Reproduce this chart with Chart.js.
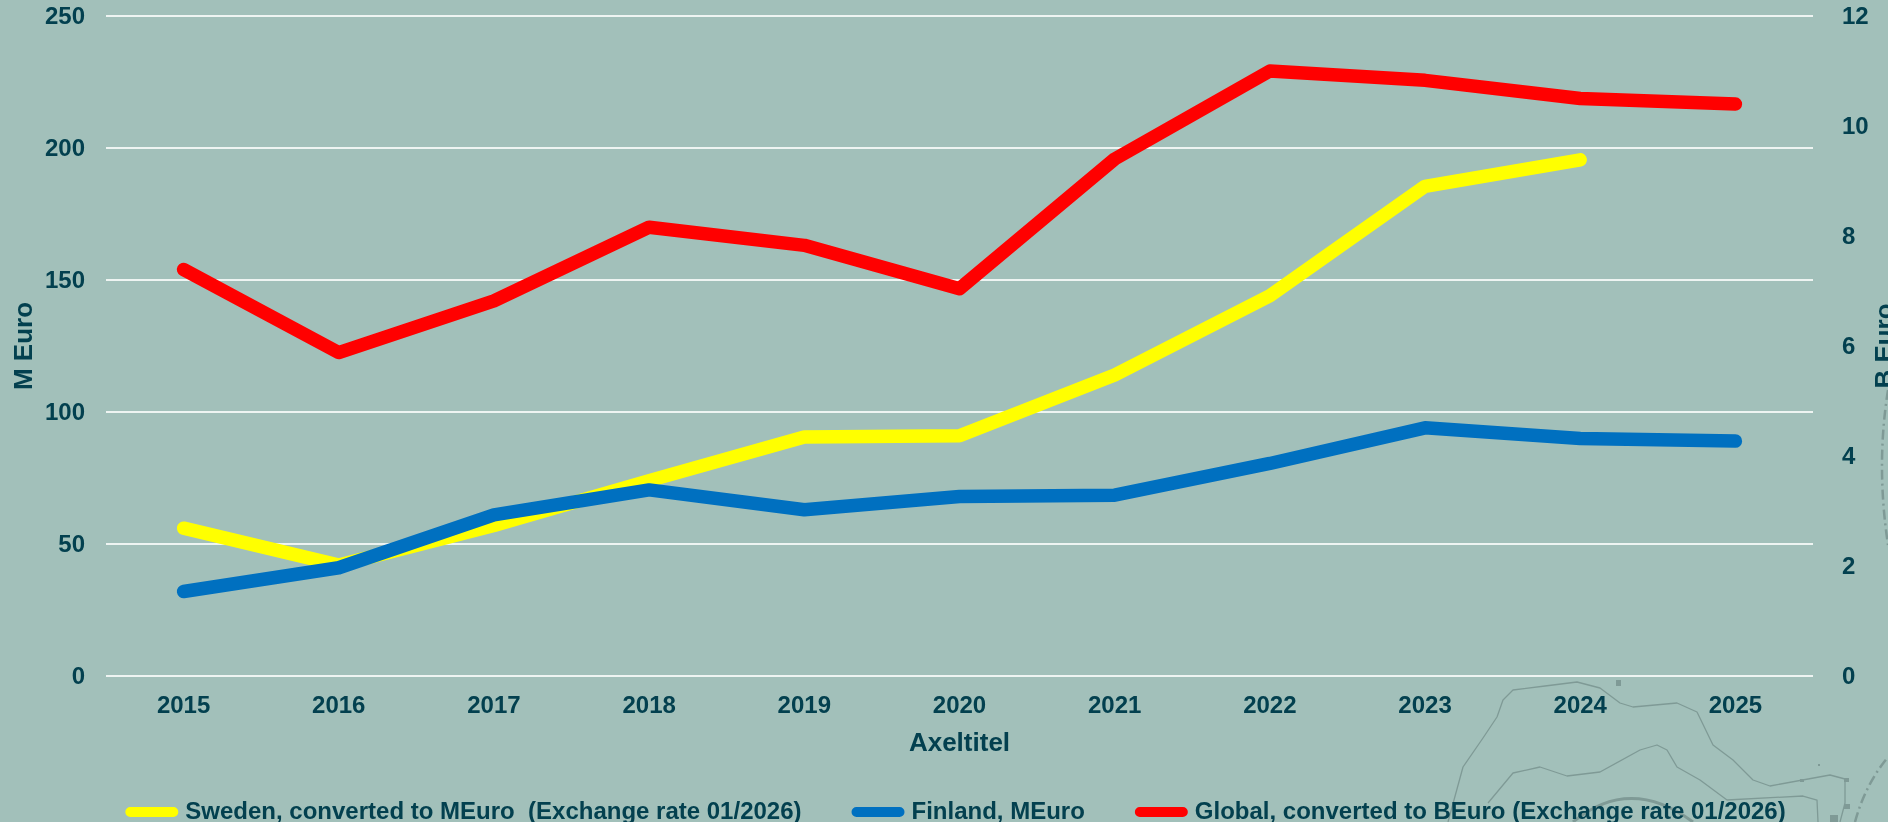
<!DOCTYPE html>
<html><head><meta charset="utf-8">
<style>html,body{margin:0;padding:0;width:1888px;height:822px;overflow:hidden;background:#a2c0ba}
#wrap{position:absolute;left:0;top:0;width:1916px;height:834px}
svg{position:absolute;left:0;top:0}</style>
<script src="https://cdn.jsdelivr.net/npm/chart.js@4"></script>
</head><body>
<svg width="1888" height="822" fill="none" stroke="#7f9a96" stroke-width="1.3" stroke-linejoin="round">
<polyline points="1448,822 1463,767 1483,738 1497,717 1503,700 1513,690 1545,686 1577,682 1600,688 1620,703 1633,707 1677,703 1697,712 1713,745 1733,760 1753,780 1770,786 1830,775 1845,779 1845,803 1840,822"/>
<polyline points="1488,803 1513,773 1540,767 1567,776 1600,772 1640,750 1657,745 1667,750 1677,767 1700,780 1727,800 1803,796 1817,800 1818,822"/>
<path d="M1573 822Q1630 775 1693 822" stroke-width="3"/>
<path d="M1855 822Q1865 785 1888 757" stroke-width="2.5" stroke-dasharray="10 4 2 4"/>
<path d="M1888 390Q1876 465 1888 545" stroke-width="2.5" stroke-dasharray="10 4 2 4"/>
<g fill="#7f9a96" stroke="none"><rect x="1616" y="680" width="5" height="6"/><rect x="1800" y="779" width="4" height="3"/><rect x="1844" y="778" width="5" height="4"/><rect x="1844" y="804" width="6" height="5"/><rect x="1830" y="815" width="8" height="7"/><rect x="1818" y="764" width="2" height="2"/></g>
</svg>
<div id="wrap"><canvas id="c"></canvas></div>
<script>
const categories = ["2015","2016","2017","2018","2019","2020","2021","2022","2023","2024","2025"];
const swedenMEuro = [56,42,57,74,90.5,91,114,144,185.5,195.5,null];
const finlandMEuro = [32,41,61,70.5,63,68,68.5,80.5,94,90,89];
const globalBEuro = [7.39,5.88,6.82,8.16,7.83,7.04,9.4,11.0,10.83,10.5,10.4];
const leftTicksMax = 250, rightTicksMax = 12;
const ink = "#03404f";
const fam = "'Liberation Sans', Arial, sans-serif";
const tickFont = {family:fam,size:24,weight:"bold"};
const titleFont = {family:fam,size:26,weight:"bold"};
const mk = (label,data,color,axis,order)=>({label,data,borderColor:color,backgroundColor:color,yAxisID:axis,order,
  borderWidth:13.5,borderCapStyle:"round",borderJoinStyle:"round",pointRadius:0,tension:0,spanGaps:false,fill:false});
const fitY = w => s => { s.width = w; s.paddingTop = 0; s.paddingBottom = 0; };
// Right axis title reads bottom-to-top in the reference; Chart.js would rotate it the other way.
const rightTitle = {id:"rightTitle",afterDraw(chart){
  const s = chart.scales.y1, c = chart.ctx;
  c.save();
  c.translate(s.right - 30, (s.top + s.bottom) / 2);
  c.rotate(-Math.PI / 2);
  c.font = "bold 26px " + fam;
  c.fillStyle = ink;
  c.textAlign = "center";
  c.textBaseline = "middle";
  c.fillText(s.options.title.text, 0, 0);
  c.restore();
}};
new Chart(document.getElementById("c"),{
  type:"line",
  plugins:[rightTitle],
  data:{labels:categories,datasets:[
    mk("Sweden, converted to MEuro  (Exchange rate 01/2026)",swedenMEuro,"#ffff00","y",3),
    mk("Finland, MEuro",finlandMEuro,"#0070c0","y",2),
    mk("Global, converted to BEuro (Exchange rate 01/2026)",globalBEuro,"#ff0000","y1",1)
  ]},
  options:{
    responsive:true,maintainAspectRatio:false,animation:false,
    layout:{padding:{top:16,left:0,right:0,bottom:0}},
    plugins:{
      tooltip:{enabled:false},
      legend:{position:"bottom",labels:{
        color:ink,font:{family:fam,size:24,weight:"bold"},padding:55,boxWidth:43,boxHeight:0,
        generateLabels(chart){
          return chart.data.datasets.map((d,i)=>({text:d.label,fillStyle:d.borderColor,strokeStyle:d.borderColor,lineWidth:10,lineJoin:"round",fontColor:ink,datasetIndex:i,hidden:false}));
        }
      }}
    },
    scales:{
      x:{offset:true,grid:{display:false,offset:true},border:{display:false},
         ticks:{color:ink,font:tickFont,padding:8,maxRotation:0},
         title:{display:true,text:"Axeltitel",color:ink,font:titleFont,padding:{top:0,bottom:-14}},
         afterFit(s){s.height=69}},
      y:{position:"left",min:0,max:leftTicksMax,
         grid:{color:"#eef4f2",lineWidth:2,drawTicks:false},border:{display:false},
         ticks:{color:ink,font:tickFont,padding:21,stepSize:50,labelOffset:1.5},
         title:{display:true,text:"M Euro",color:ink,font:titleFont,padding:{top:9,bottom:0}},
         afterFit:fitY(106)},
      y1:{position:"right",min:0,max:rightTicksMax,
         grid:{display:false},border:{display:false},
         ticks:{color:ink,font:tickFont,padding:21,stepSize:2,labelOffset:1.5},
         title:{display:false,text:"B Euro",color:ink,font:titleFont},
         afterFit:fitY(103)}
    }
  }
});
</script></body></html>
